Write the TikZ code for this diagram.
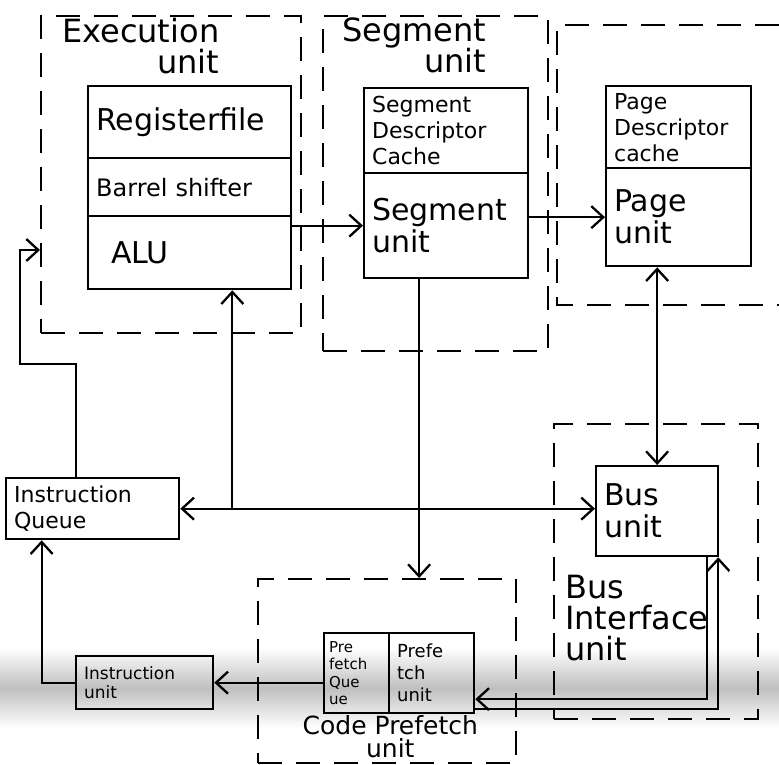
\documentclass[tikz,border=0pt]{standalone}
\usepackage{fontspec}
\setmainfont{DejaVu Sans}
\usepackage{tikz}
\usetikzlibrary{arrows.meta,positioning}
\tikzstyle{cell}=[draw,line width=2.3pt,anchor=north west,align=left,inner xsep=8pt,inner ysep=0pt]
\tikzstyle{grp}=[draw,line width=2.3pt,dash pattern=on 24pt off 14pt,anchor=north west,inner sep=0pt]
\tikzstyle{grplbl}=[inner sep=0pt,font=\fontsize{32}{31}\selectfont]
\tikzstyle{arrow}=[-{Straight Barb[length=12pt,width=22pt]},line width=2.3pt]
\tikzstyle{biarrow}=[{Straight Barb[length=12pt,width=22pt]}-{Straight Barb[length=12pt,width=22pt]},line width=2.3pt]
\newcommand{\bigtxt}{\fontsize{30}{32}\selectfont}
\newcommand{\midtxt}{\fontsize{22}{26}\selectfont}
\newcommand{\smalltxt}{\fontsize{17}{19}\selectfont}

\begin{document}
\begin{tikzpicture}[x=1pt,y=-1pt]
  \useasboundingbox (0,0) rectangle (779,764);
  % shadow band of the photo
  \shade[top color=white,bottom color=white,middle color=gray!50] (0,648) rectangle (779,728);

  % dashed groups
  \node[grp,minimum width=260pt,minimum height=317pt] (exbox) at (40,15) {};
  \node[grp,minimum width=225pt,minimum height=335pt] (sgbox) at (322,15) {};
  \draw[line width=2.3pt,dash pattern=on 24pt off 14pt] (779,25) -| (557,305) -- (779,305);
  \node[grp,minimum width=258pt,minimum height=184pt] (cpbox) at (257,578) {};
  \node[grp,minimum width=204pt,minimum height=295pt] (bibox) at (553,423) {};

  \node[grplbl,align=right,below right=3pt and 22pt of exbox.north west] (exlbl) {Execution\\unit};
  \node[grplbl,align=right,below right=3pt and 20pt of sgbox.north west] (sglbl) {Segment\\unit};
  \node[grplbl,align=left,below right=152pt and 12pt of bibox.north west] (bilbl) {Bus\\Interface\\unit};

  % execution unit
  \node[cell,minimum height=72pt,text width=187pt,font=\bigtxt] (reg) at (87,85) {Registerfile};
  \node[cell,minimum height=58pt,text width=187pt,font=\fontsize{24}{26}\selectfont] (bsh) at (87,157) {Barrel shifter};
  \node[cell,minimum height=73pt,text width=157pt,inner xsep=23pt,font=\bigtxt] (alu) at (87,215) {ALU};

  % segment unit
  \node[cell,minimum height=85pt,text width=148pt,font=\midtxt] (sdc) at (363,87) {Segment\\Descriptor\\Cache};
  \node[cell,minimum height=105pt,text width=148pt,font=\bigtxt] (segu) at (363,172) {Segment\\unit};

  % page unit
  \node[cell,minimum height=82pt,text width=129pt,font=\midtxt] (pdc) at (605,85) {Page\\Descriptor\\cache};
  \node[cell,minimum height=98pt,text width=129pt,font=\bigtxt] (pageu) at (605,167) {Page\\unit};

  \node[cell,minimum height=90pt,text width=106pt,font=\bigtxt] (busu) at (595,465) {Bus\\unit};
  \node[cell,minimum height=61pt,text width=157pt,font=\midtxt] (queue) at (5,477) {Instruction\\Queue};
  \node[cell,minimum height=53pt,text width=121pt,font=\smalltxt] (instu) at (75,655) {Instruction\\unit};

  % code prefetch unit
  \node[cell,minimum height=80pt,text width=55pt,inner xsep=5pt,font=\fontsize{15}{17.5}\selectfont] (pfq) at (323,632) {Pre\\fetch\\Que\\ue};
  \node[cell,minimum height=80pt,text width=69pt,font=\fontsize{18}{22}\selectfont] (pfu) at (388,632) {Prefe\\tch\\unit};
  \node[inner sep=0pt,align=center,font=\fontsize{25}{23}\selectfont,below=1pt of pfq.south east] (cplbl) {Code Prefetch\\unit};

  \coordinate (tap) at ([xshift=52pt]queue.east);

  \draw[arrow] (alu.east |- segu.west) -- (segu.west);
  \draw[arrow] (segu.east |- pageu.west) -- (pageu.west);
  \draw[arrow] ([xshift=-27pt]segu.south) -- ([xshift=-27pt]segu.south |- cpbox.north);
  \draw[biarrow] (pageu.south -| busu.north) -- (busu.north);
  \draw[biarrow] (queue.east) -- (queue.east -| busu.west);
  \draw[arrow] (tap) -- (tap |- alu.south);
  \draw[arrow] ([xshift=-17pt]queue.north) |- (20,364) |- (exbox.west |- 0,250);
  \draw[arrow] (instu.west) -| ([xshift=-51pt]queue.south);
  \draw[arrow] (pfq.west |- instu.east) -- (instu.east);
  \draw[arrow] ([xshift=-12pt]busu.south east) |- ([yshift=-26pt]pfu.east);
  \draw[arrow] ([yshift=-36pt]pfu.east) -| ([xshift=-1pt]busu.south east);
\end{tikzpicture}
\end{document}
